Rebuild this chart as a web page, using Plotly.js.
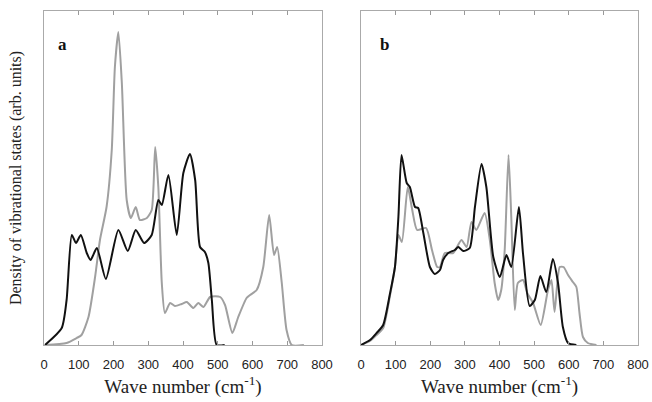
<!DOCTYPE html>
<html>
<head>
<meta charset="utf-8">
<script src="https://cdn.plot.ly/plotly-3.0.1.min.js"></script>
<style>html,body{margin:0;padding:0;background:#fff;}#chart{width:652px;height:402px;}</style>
</head>
<body>
<div id="chart"></div>
<script>
// Panel a, black curve
const aBlackX = [3, 51, 65, 80, 92, 106, 123, 134, 152, 178, 214, 241, 264, 288, 310, 329, 339, 358, 382, 401, 420, 435, 449, 463, 473, 483, 497, 520];
const aBlackY = [0, 17, 45, 110, 102, 110, 92, 85, 97, 66, 115, 94, 115, 102, 110, 145, 140, 170, 110, 172, 191, 165, 98, 93, 82, 45, 0, 0];
// Panel a, gray curve
const aGrayX = [3, 65, 94, 108, 128, 147, 161, 180, 195, 204, 214, 224, 238, 250, 264, 276, 296, 310, 320, 329, 339, 348, 363, 377, 396, 411, 430, 444, 459, 478, 507, 521, 542, 559, 583, 593, 612, 631, 648, 662, 671, 684, 698, 713, 748];
const aGrayY = [0, 2, 7, 10, 28, 68, 105, 138, 195, 278, 313, 262, 145, 127, 138, 125, 127, 135, 198, 158, 62, 32, 42, 39, 41, 43, 37, 42, 38, 48, 48, 40, 12, 28, 47, 50, 55, 78, 130, 90, 98, 63, 15, 0, 0];
// Panel b, black curve
const bBlackX = [0, 26, 45, 64, 84, 98, 108, 117, 132, 141, 156, 165, 180, 199, 213, 228, 237, 252, 271, 281, 295, 314, 329, 348, 362, 382, 401, 420, 434, 456, 468, 487, 502, 518, 535, 554, 569, 583, 598, 622];
const bBlackY = [0, 5, 12, 20, 52, 78, 128, 190, 162, 158, 138, 137, 112, 78, 71, 75, 85, 92, 95, 98, 94, 97, 138, 181, 158, 88, 68, 90, 78, 138, 91, 39, 45, 69, 53, 86, 62, 18, 2, 0];
// Panel b, gray curve
const bGrayX = [0, 26, 45, 64, 84, 98, 108, 118, 135, 148, 162, 188, 205, 220, 228, 242, 266, 290, 305, 319, 333, 357, 372, 386, 396, 405, 415, 426, 434, 444, 453, 468, 480, 497, 519, 540, 550, 559, 574, 585, 598, 612, 622, 631, 641, 655, 680];
const bGrayY = [0, 4, 10, 17, 50, 78, 110, 103, 158, 135, 115, 117, 95, 78, 78, 92, 92, 105, 98, 123, 115, 132, 105, 62, 45, 55, 95, 190, 128, 35, 62, 65, 52, 42, 20, 55, 65, 33, 78, 78, 70, 63, 58, 32, 8, 2, 0];
const xTicks = [0, 100, 200, 300, 400, 500, 600, 700, 800];
const panelLabels = ['a', 'b'];
const xTitle = 'Wave number (cm<sup>-1</sup>)';
const yTitle = 'Density of vibrational states (arb. units)';

const blk = {color: '#111111', width: 2, shape: 'spline', smoothing: 0.6};
const gry = {color: '#a0a0a0', width: 2, shape: 'spline', smoothing: 0.6};
const traces = [
  {x: aGrayX, y: aGrayY, xaxis: 'x', yaxis: 'y', mode: 'lines', line: gry},
  {x: aBlackX, y: aBlackY, xaxis: 'x', yaxis: 'y', mode: 'lines', line: blk},
  {x: bGrayX, y: bGrayY, xaxis: 'x2', yaxis: 'y2', mode: 'lines', line: gry},
  {x: bBlackX, y: bBlackY, xaxis: 'x2', yaxis: 'y2', mode: 'lines', line: blk}
];
const xax = (dom) => ({
  domain: dom, range: [0, 800], tickvals: xTicks, ticktext: xTicks.map(String),
  ticks: 'inside', ticklen: 4, tickcolor: '#999', showline: true, linecolor: '#aaa', linewidth: 1,
  mirror: 'ticks', showgrid: false, zeroline: false, ticklabelstandoff: 7,
  tickfont: {family: 'Liberation Sans, Arial, sans-serif', size: 13, color: '#222'},
  title: {text: xTitle, font: {family: 'Liberation Serif, Times New Roman, serif', size: 19, color: '#222'}, standoff: 9}
});
const yax = (anchor) => ({
  anchor: anchor, range: [0, 334], showticklabels: false, ticks: '', showline: true,
  linecolor: '#aaa', linewidth: 1, mirror: true, showgrid: false, zeroline: false
});
const layout = {
  width: 652, height: 402, showlegend: false,
  paper_bgcolor: '#fff', plot_bgcolor: '#fff',
  margin: {l: 44, r: 14, t: 11, b: 57},
  xaxis: Object.assign(xax([0, 0.468]), {anchor: 'y'}),
  xaxis2: Object.assign(xax([0.5337, 1]), {anchor: 'y2'}),
  yaxis: Object.assign(yax('x'), {title: {text: yTitle, font: {family: 'Liberation Serif, Times New Roman, serif', size: 16, color: '#222'}, standoff: 17}}),
  yaxis2: yax('x2'),
  annotations: [
    {text: '<b>' + panelLabels[0] + '</b>', xref: 'x domain', yref: 'y domain', x: 0.065, y: 0.9, xanchor: 'center', yanchor: 'middle', showarrow: false, font: {family: 'Liberation Serif, serif', size: 17, color: '#111'}},
    {text: '<b>' + panelLabels[1] + '</b>', xref: 'x2 domain', yref: 'y2 domain', x: 0.085, y: 0.9, xanchor: 'center', yanchor: 'middle', showarrow: false, font: {family: 'Liberation Serif, serif', size: 17, color: '#111'}}
  ]
};
Plotly.newPlot('chart', traces, layout, {staticPlot: true, displayModeBar: false});
</script>
</body>
</html>
